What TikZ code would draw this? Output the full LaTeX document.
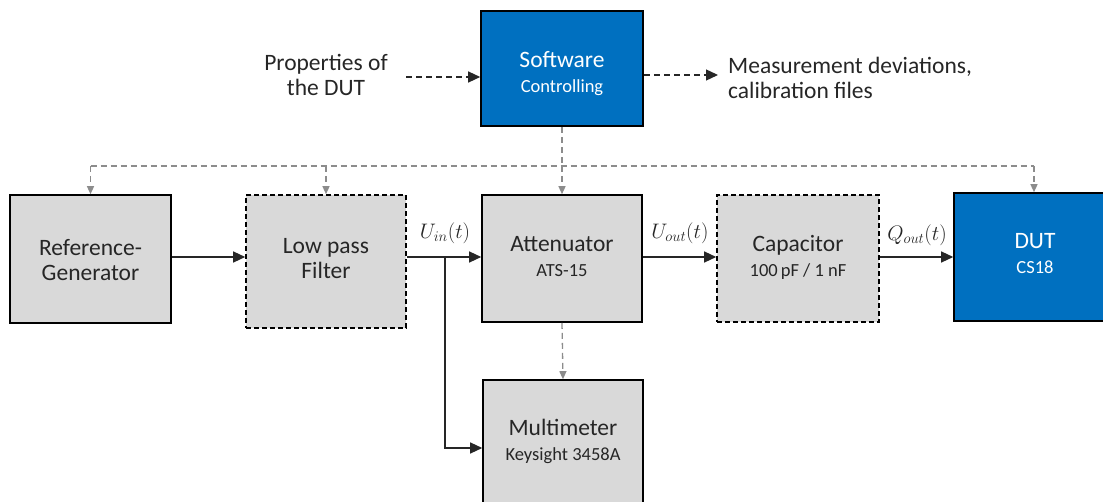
\RequirePackage{fix-cm}
\documentclass[tikz,border=0pt]{standalone}
\usepackage{fontspec}
\setmainfont{Carlito}
\usetikzlibrary{arrows.meta}
\definecolor{blueb}{HTML}{0070C0}
\definecolor{grayf}{HTML}{D9D9D9}
\definecolor{txt}{HTML}{262626}
\definecolor{ctl}{HTML}{8C8C8C}
\newcommand\subt{\fontsize{18.5}{25}\selectfont}
\begin{document}
\begin{tikzpicture}[x=1pt,y=-1pt,
  box/.style={draw=black, line width=1.6pt, inner sep=0pt},
  gbox/.style={box, fill=grayf},
  dbox/.style={gbox, dash pattern=on 5pt off 3pt},
  bbox/.style={box, fill=blueb},
  lbl/.style={align=center, text=txt, font=\fontsize{23.5}{25}\selectfont, inner sep=0pt},
  wl/.style={lbl, text=white},
  sig/.style={line width=1.3pt, draw=black!85, -{Triangle[length=12pt,width=11pt]}},
  ctlline/.style={draw=ctl, line width=1.3pt, dash pattern=on 6pt off 4pt},
  ctlarr/.style={ctlline, -{Triangle[length=8pt,width=7pt]}},
  dataarr/.style={line width=1.3pt, draw=black!85, dash pattern=on 6pt off 4pt, -{Triangle[length=12pt,width=11pt]}},
  mlbl/.style={text=txt, font=\fontsize{21}{24}\selectfont, inner sep=0pt}
]
\useasboundingbox (0,0) rectangle (1103,502);

% boxes
\node[bbox, minimum width=162pt, minimum height=115pt] (sw) at (562,68.5) {};
\node[gbox, minimum width=161pt, minimum height=128pt] (rg) at (90.5,259) {};
\node[dbox, minimum width=160pt, minimum height=133pt] (lp) at (326,261.5) {};
\node[gbox, minimum width=160pt, minimum height=127pt] (att) at (562,258.5) {};
\node[dbox, minimum width=162pt, minimum height=127pt] (cap) at (798,258.5) {};
\node[bbox, minimum width=160pt, minimum height=128pt] (dut) at (1034,257) {};
\node[gbox, minimum width=160pt, minimum height=127pt] (mm) at (563,443.5) {};

% texts
\node[wl] (swt) at (562,73.5) {Software\\{\subt Controlling}};
\node[lbl] (rgt) at (90.5,260) {Reference-\\Generator};
\node[lbl] (lpt) at (326,259) {Low pass\\Filter};
\node[lbl] (attt) at (562,257) {Attenuator\\{\subt ATS-15}};
\node[lbl] (capt) at (798,257) {Capacitor\\{\subt 100\,pF / 1 nF}};
\node[wl] (dutt) at (1035,254) {DUT\\{\subt CS18}};
\node[lbl] (mmt) at (563,441.5) {Multimeter\\{\subt Keysight 3458A}};
\node[lbl] (prop) at (326,74.5) {Properties of\\the DUT};
\node[lbl, align=left, anchor=west] (meas) at (728,77.5) {Measurement deviations,\\calibration files};

% signal labels
\node[mlbl] (uin) at (445,233) {$U_{in}(t)$};
\node[mlbl] (uout) at (680,233) {$U_{out}(t)$};
\node[mlbl] (qout) at (917,235) {$Q_{out}(t)$};

% signal path
\coordinate (row) at (0,257);
\coordinate (j) at (445,257);
\coordinate (mmin) at (445,448);
\draw[sig] (rg.east |- row) -- (lp.west |- row);
\draw[sig] (lp.east |- row) -- (att.west |- row);
\draw[sig] (j) -- (mmin) -- (mm.west |- mmin);
\draw[sig] (att.east |- row) -- (cap.west |- row);
\draw[sig] (cap.east |- row) -- (dut.west |- row);

% control bus
\coordinate (bus) at (562,166);
\draw[ctlline] (sw.south) -- (bus);
\draw[ctlline] (rg.north |- bus) -- (dut.north |- bus);
\draw[ctlarr] (bus) -- (att.north);
\draw[ctlarr] (rg.north |- bus) -- (rg.north);
\draw[ctlarr] (lp.north |- bus) -- (lp.north);
\draw[ctlarr] (dut.north |- bus) -- (dut.north);
\draw[ctlarr] (att.south) -- (mm.north);

% data in / out
\coordinate (pin) at (406,77);
\coordinate (pout) at (718,75);
\draw[dataarr] (pin) -- (sw.west |- pin);
\draw[dataarr] (sw.east |- pout) -- (pout);
\end{tikzpicture}
\end{document}
